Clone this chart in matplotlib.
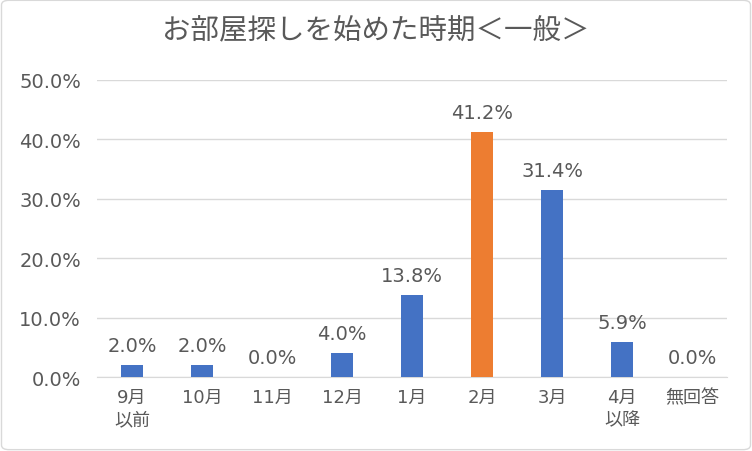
import numpy as np
import matplotlib.pyplot as plt
from matplotlib.patches import FancyBboxPatch

plt.rcParams['font.family'] = ['DejaVu Sans', 'Noto Sans CJK JP']

# data
categories = ['9月\n以前', '10月', '11月', '12月', '1月', '2月', '3月', '4月\n以降', '無回答']
values = [2.0, 2.0, 0.0, 4.0, 13.8, 41.2, 31.4, 5.9, 0.0]
highlight = '2月'
title = 'お部屋探しを始めた時期＜一般＞'

blue = '#4472C4'
orange = '#ED7D31'
text_col = '#595959'

fig = plt.figure(figsize=(7.52, 4.52), dpi=100)
frame = FancyBboxPatch((0.002, 0.003), 0.996, 0.994,
                       boxstyle='round,pad=0,rounding_size=0.01',
                       transform=fig.transFigure, fc='white',
                       ec='#D9D9D9', lw=1, zorder=-10)
fig.patches.append(frame)
ax = fig.add_axes([0.129, 0.1637, 0.838, 0.6571])
ax.patch.set_alpha(0)

x = np.arange(len(categories))
colors = [orange if c == highlight else blue for c in categories]
bars = ax.bar(x, values, width=0.314, color=colors, zorder=3)

for xi, v in zip(x, values):
    ax.annotate(f'{v:.1f}%', (xi, v), xytext=(0, 7.5), textcoords='offset points',
                ha='center', va='bottom', fontsize=14, color=text_col)

ax.set_xlim(-0.5, len(categories) - 0.5)
ax.set_ylim(0, 50)
ax.set_yticks(np.arange(0, 51, 10))
ax.set_yticklabels([f'{t:.1f}%' for t in np.arange(0, 51, 10)])
ax.set_xticks(x)
ax.set_xticklabels(categories, linespacing=1.3)
ax.tick_params(axis='y', length=0, labelsize=14, labelcolor=text_col, pad=11.5)
ax.tick_params(axis='x', length=0, labelsize=13, labelcolor=text_col, pad=8)
ax.grid(axis='y', color='#D9D9D9', lw=1, zorder=0)
for s in ['top', 'right', 'left']:
    ax.spines[s].set_visible(False)
ax.spines['bottom'].set_color('#D9D9D9')

fig.text(0.5, 0.93, title, ha='center', va='center', fontsize=20.5,
         color=text_col, family=['Noto Sans CJK JP', 'DejaVu Sans'])

fig.savefig('out.png', dpi=100)
